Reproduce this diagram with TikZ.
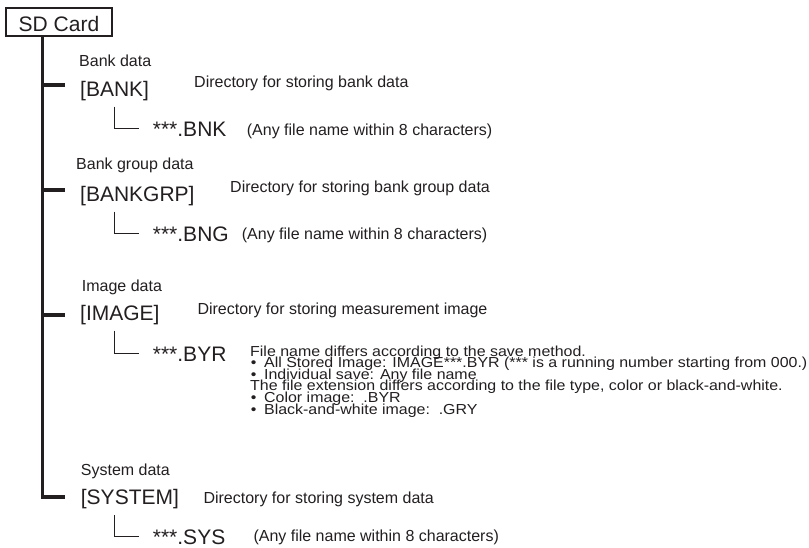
\documentclass[tikz,border=0pt]{standalone}
\usepackage{fontspec}
\setmainfont{Liberation Sans}
\newfontfamily\blockfont[FakeStretch=1.1]{Liberation Sans}
\definecolor{ink}{HTML}{231F20}
\newcommand{\blkbullet}{\hspace{0.7pt}\makebox[13.3pt][l]{•}}
\begin{document}
\begin{tikzpicture}[x=1pt,y=-1pt,
  every node/.style={inner sep=0pt, text=ink},
  bigtext/.style={font=\fontsize{21pt}{24pt}\selectfont, anchor=base west},
  smalltext/.style={font=\fontsize{16pt}{18pt}\selectfont, anchor=base west},
  blocktext/.style={font=\blockfont\fontsize{14.5pt}{11.6pt}\selectfont, anchor=base west},
  trunkline/.style={draw=ink, line width=3.4pt},
  thinline/.style={draw=ink, line width=1.2pt},
  cardbox/.style={draw=ink, line width=1.2pt, minimum width=106pt, minimum height=28pt,
    text height=19.4pt, text depth=0pt, font=\fontsize{21pt}{24pt}\selectfont}
]
\useasboundingbox (0,0) rectangle (809,548);

% root
\node[cardbox] (sd) at (59,22) {SD Card};

% labels
\node[smalltext] (lbank) at (79,66.7) {Bank data};
\node[smalltext] (lgrp) at (76,170) {Bank group data};
\node[smalltext] (limg) at (81.7,291.7) {Image data};
\node[smalltext] (lsys) at (80.7,475) {System data};

% directories
\node[bigtext] (bank) at (80,96.7) {[BANK]};
\node[bigtext] (grp) at (80,201.7) {[BANKGRP]};
\node[bigtext] (img) at (80,320) {[IMAGE]};
\node[bigtext] (sys) at (80.7,504) {[SYSTEM]};

% directory descriptions
\node[smalltext] (dbank) at (194,88) {Directory for storing bank data};
\node[smalltext] (dgrp) at (230,192.7) {Directory for storing bank group data};
\node[smalltext] (dimg) at (197.3,315) {Directory for storing measurement image};
\node[smalltext] (dsys) at (203.3,503.3) {Directory for storing system data};

% files
\node[bigtext] (fbnk) at (152.7,136.7) {***.BNK};
\node[bigtext] (fbng) at (152.7,241.7) {***.BNG};
\node[bigtext] (fbyr) at (152.7,361.7) {***.BYR};
\node[bigtext] (fsys) at (152.7,544) {***.SYS};

% file comments
\node[smalltext] (cbnk) at (246.7,136) {(Any file name within 8 characters)};
\node[smalltext] (cbng) at (241.7,239.3) {(Any file name within 8 characters)};
\node[smalltext] (csys) at (253.3,541.7) {(Any file name within 8 characters)};
\node[blocktext] (cbyr) at (250,356) {\vtop{\baselineskip=11.6pt\lineskiplimit=-100pt\lineskip=0pt
\hbox{File name differs according to the save method.}
\hbox{\blkbullet All Stored Image: IMAGE***.BYR (*** is a running number starting from 000.)}
\hbox{\blkbullet Individual save: Any file name}
\hbox{The file extension differs according to the file type, color or black-and-white.}
\hbox{\blkbullet Color image:\ \ .BYR}
\hbox{\blkbullet Black-and-white image:\ \ .GRY}}};

% trunk coordinates
\coordinate (ttop) at ([xshift=-16.3pt]sd.south);
\coordinate (tbank) at (ttop |- 0,85);
\coordinate (tgrp) at (ttop |- 0,190);
\coordinate (timg) at (ttop |- 0,315);
\coordinate (tsys) at (ttop |- 0,497);
\coordinate (ebank) at (65,85);
\coordinate (egrp) at (65,190);
\coordinate (eimg) at (65,315);
\coordinate (esys) at (65,497);

\draw[trunkline] (ttop) -- (tsys) -- (esys);
\draw[trunkline] (tbank) -- (ebank);
\draw[trunkline] (tgrp) -- (egrp);
\draw[trunkline] (timg) -- (eimg);

% sub branches
\coordinate (sbank) at (114.3,106.7);
\coordinate (sbank2) at (139.3,128.3);
\coordinate (sgrp) at (114.3,211.7);
\coordinate (sgrp2) at (139.3,233.3);
\coordinate (simg) at (114.3,330.7);
\coordinate (simg2) at (139.3,353.3);
\coordinate (ssys) at (114.3,515);
\coordinate (ssys2) at (139.3,536.7);
\draw[thinline] (sbank) |- (sbank2);
\draw[thinline] (sgrp) |- (sgrp2);
\draw[thinline] (simg) |- (simg2);
\draw[thinline] (ssys) |- (ssys2);
\end{tikzpicture}
\end{document}
